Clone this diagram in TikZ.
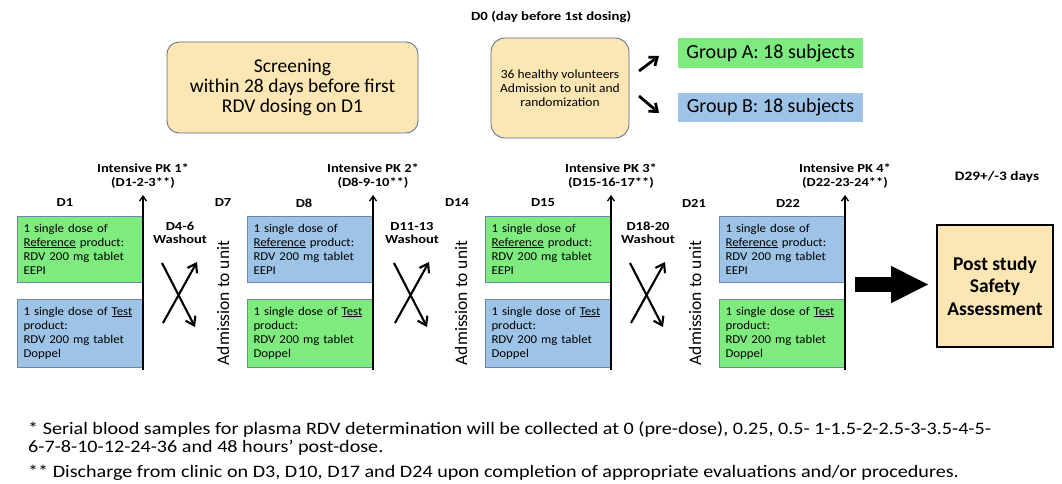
\documentclass[tikz,border=0pt]{standalone}
\usepackage{fontspec}
\setmainfont{Carlito}
\newfontfamily\boxfont[FakeStretch=1.07]{Carlito}
\newfontfamily\labfont[FakeStretch=1.18]{Carlito}
\newfontfamily\dzfont[FakeStretch=1.08]{Carlito}
\newfontfamily\fnfont[FakeStretch=1.15]{Carlito}
\usetikzlibrary{arrows.meta}
\definecolor{grn}{HTML}{7DEB7D}
\definecolor{blu}{HTML}{9DC3E6}
\definecolor{peach}{HTML}{FCE6B4}
\definecolor{bord}{HTML}{6E86A6}
\begin{document}
\begin{tikzpicture}[x=1pt,y=-1pt,
  dose/.style={draw=bord, line width=0.6pt, minimum width=125pt, text width=112pt, inner xsep=6.5pt, inner ysep=0pt, align=left, font=\boxfont\fontsize{12}{14}\selectfont},
  lab/.style={font=\labfont\fontsize{12.3}{13.5}\selectfont\bfseries, inner sep=0pt, align=center},
  adm/.style={rotate=90, font=\fontsize{17.5}{20}\selectfont, inner sep=0pt},
  cross/.style={line width=2.1pt, -{Straight Barb[length=8pt,width=11pt]}},
  pk/.style={line width=1.3pt, -{Straight Barb[length=5pt,width=7pt]}},
  rbox/.style={draw=bord!80!black, line width=0.8pt, fill=peach, rounded corners=12pt},
]
\useasboundingbox (0,0) rectangle (1062,484);
\fill[white] (0,0) rectangle (1062,484);

% top
\node[rbox, minimum width=251pt, minimum height=91pt, align=center, font=\fontsize{19.5}{20}\selectfont] (scr) at (292.5,87.5) {Screening\\within 28 days before first\\RDV dosing on D1};
\node[lab, anchor=west, font=\labfont\fontsize{12.5}{14}\selectfont\bfseries] (d0) at (471,17) {D0 (day before 1st dosing)};
\node[rbox, rounded corners=14pt, minimum width=138pt, minimum height=100pt, align=center, font=\dzfont\fontsize{12.5}{14}\selectfont] (rand) at (560,88) {36 healthy volunteers\\Admission to unit and\\randomization};
\node[fill=grn, minimum width=185pt, minimum height=30pt, inner sep=0pt, font=\fontsize{20}{22}\selectfont] (ga) at (770.5,53) {Group A: 18 subjects};
\node[fill=blu, minimum width=185pt, minimum height=29pt, inner sep=0pt, font=\fontsize{20}{22}\selectfont] (gb) at (770.5,107.5) {Group B: 18 subjects};
\coordinate (a1s) at (639,71); \coordinate (a1e) at (659,56);
\coordinate (a2s) at (639,96); \coordinate (a2e) at (659,113);
\draw[line width=2.8pt, -{Straight Barb[length=7pt,width=11pt]}] (a1s) -- (a1e);
\draw[line width=2.8pt, -{Straight Barb[length=7pt,width=11pt]}] (a2s) -- (a2e);

% panels
\foreach \i/\dx/\ct/\cb/\pkl/\pkd/\dl/\dlx in {1/0/grn/blu/1/D1-2-3/D1/65, 2/230/blu/grn/2/D8-9-10/D8/304, 3/468/grn/blu/3/D15-16-17/D15/543, 4/702/blu/grn/4/D22-23-24/D22/788}{
  \node[dose, fill=\ct, minimum height=66pt] (top\i) at (79.5+\dx,249) {1 single dose of\\\underline{Reference} product:\\RDV 200 mg tablet\\EEPI};
  \node[dose, fill=\cb, minimum height=68pt] (bot\i) at (79.5+\dx,333) {1 single dose of \underline{Test}\\product:\\RDV 200 mg tablet\\Doppel};
  \coordinate (pkb\i) at (143+\dx,370);
  \coordinate (pkt\i) at (143+\dx,195);
  \draw[pk] (pkb\i) -- (pkt\i);
  \node[lab] (pkl\i) at (143+\dx,176) {Intensive PK \pkl*\\(\pkd**)};
  \node[lab] (day\i) at (\dlx,203) {\dl};
}
\foreach \i/\dx/\wa/\dend/\dex/\ax in {1/0/D4-6/D7/223/223, 2/232/D11-13/D14/457/461, 3/468/D18-20/D21/694/695}{
  \node[lab] (wash\i) at (180+\dx,233) {\wa\\Washout};
  \node[lab] (dayend\i) at (\dex,203) {\dend};
  \node[adm] (adm\i) at (\ax,303) {Admission to unit};
  \coordinate (c1s\i) at (163+\dx,323); \coordinate (c1e\i) at (197+\dx,262);
  \coordinate (c2s\i) at (162+\dx,263); \coordinate (c2e\i) at (195+\dx,327);
  \draw[cross] (c1s\i) -- (c1e\i);
  \draw[cross] (c2s\i) -- (c2e\i);
}

% end
\node[lab, font=\labfont\fontsize{13}{14}\selectfont\bfseries] (d29) at (997,177) {D29+/-3 days};
\node[draw=black, line width=1.6pt, fill=peach, minimum width=116pt, minimum height=122pt, align=center, font=\fontsize{19.5}{22.5}\selectfont\bfseries] (post) at (995,286) {Post study\\Safety\\Assessment};
\coordinate (bigs) at (855,284.5);
\draw[line width=15pt, -{Triangle[length=38pt,width=34pt]}] (bigs) -- ([xshift=-7pt]post.west |- bigs);

% footnotes
\node[anchor=west, inner sep=0pt, font=\fnfont\fontsize{17.5}{18}\selectfont, align=left] (fn1) at (28,439) {* Serial blood samples for plasma RDV determination will be collected at 0 (pre-dose), 0.25, 0.5- 1-1.5-2-2.5-3-3.5-4-5-\\6-7-8-10-12-24-36 and 48 hours’ post-dose.};
\node[anchor=west, inner sep=0pt, font=\fnfont\fontsize{17.5}{18}\selectfont, align=left] (fn2) at (28,473) {** Discharge from clinic on D3, D10, D17 and D24 upon completion of appropriate evaluations and/or procedures.};
\end{tikzpicture}
\end{document}
